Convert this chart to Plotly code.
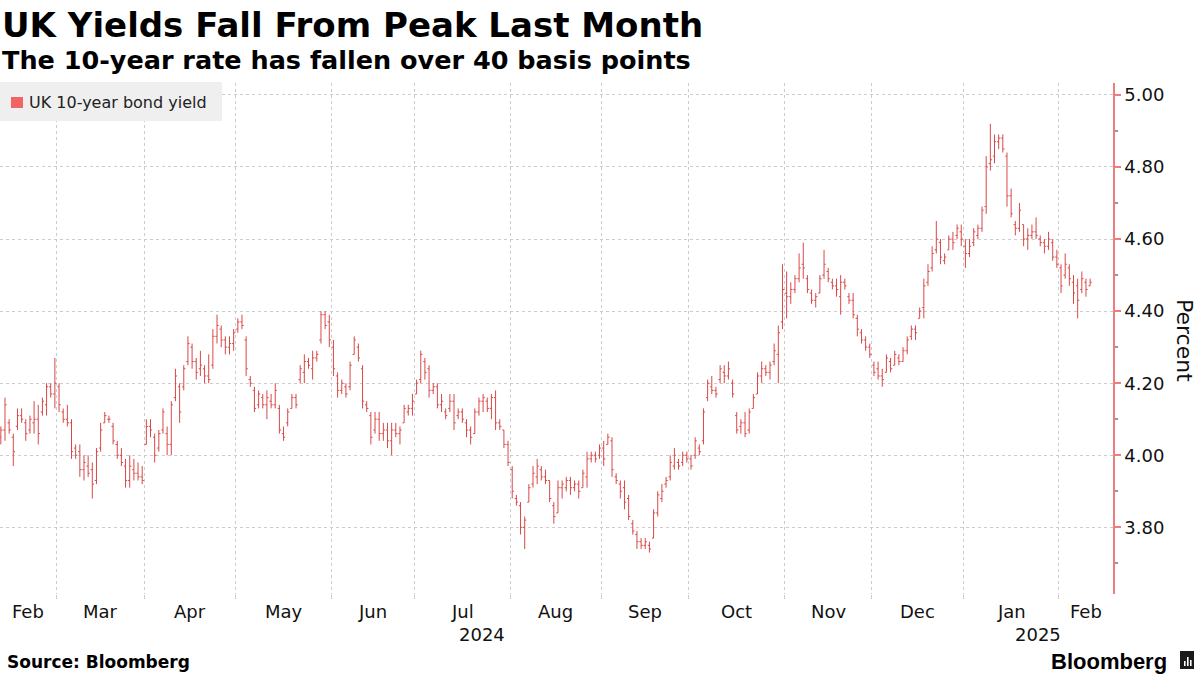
import pandas as pd
import plotly.graph_objects as go

# ---------------- data (UK 10-year gilt yield, daily OHLC, %) ----------------
dates = pd.bdate_range("2024-02-12", periods=263)

high = [
    4.08, 4.16, 4.10, 4.06, 4.13, 4.13, 4.10, 4.11, 4.15, 4.14, 4.16, 4.20, 4.20, 4.27,
    4.20, 4.13, 4.14, 4.10, 4.03, 4.03, 4.00, 4.00, 3.98, 4.02, 4.09, 4.12, 4.11, 4.09, 4.04, 4.02, 3.99, 4.00, 3.99, 3.98, 3.97,
    4.10, 4.10, 4.06, 4.07, 4.13, 4.08, 4.15, 4.24, 4.20, 4.25, 4.33, 4.31, 4.27, 4.29, 4.25, 4.28, 4.35, 4.39, 4.36, 4.33, 4.33, 4.35,
    4.38, 4.39, 4.33, 4.22, 4.19, 4.18, 4.17, 4.18, 4.17, 4.20, 4.14, 4.08, 4.13, 4.17, 4.17, 4.25, 4.28, 4.27, 4.29, 4.29, 4.40, 4.40, 4.39,
    4.32, 4.23, 4.21, 4.20, 4.26, 4.33, 4.31, 4.25, 4.15, 4.12, 4.12, 4.12, 4.09, 4.09, 4.09, 4.09, 4.08, 4.14, 4.14, 4.17,
    4.21, 4.29, 4.27, 4.25, 4.20, 4.20, 4.17, 4.13, 4.17, 4.17, 4.13, 4.13, 4.10, 4.08, 4.13, 4.16, 4.17, 4.16, 4.17, 4.18, 4.10, 4.07, 4.04,
    3.97, 3.89, 3.87, 3.83, 3.92, 3.97, 3.99, 3.97, 3.96, 3.93, 3.87, 3.93, 3.93, 3.94, 3.94, 3.93, 3.93, 3.96, 4.01, 4.01, 4.01, 4.03,
    4.04, 4.06, 4.05, 3.95, 3.93, 3.93, 3.89, 3.82, 3.79, 3.77, 3.77, 3.76, 3.85, 3.90, 3.92, 3.94, 4.00, 4.02, 3.99, 4.01, 4.01,
    4.00, 4.05, 4.03, 4.13, 4.21, 4.22, 4.19, 4.25, 4.25, 4.26, 4.21, 4.12, 4.10, 4.12, 4.13, 4.17, 4.23, 4.26, 4.25, 4.26, 4.31, 4.36, 4.53,
    4.51, 4.48, 4.50, 4.56, 4.59, 4.50, 4.46, 4.45, 4.50, 4.57, 4.52, 4.49, 4.49, 4.50, 4.49, 4.45, 4.45, 4.39, 4.35, 4.33, 4.31,
    4.26, 4.26, 4.24, 4.28, 4.27, 4.29, 4.28, 4.30, 4.33, 4.36, 4.36, 4.41, 4.49, 4.53, 4.58, 4.65, 4.60, 4.56, 4.61, 4.62, 4.64, 4.64,
    4.60, 4.60, 4.63, 4.64, 4.69, 4.83, 4.92, 4.89, 4.89, 4.89, 4.84, 4.74, 4.65, 4.70, 4.64, 4.63, 4.64, 4.66, 4.61, 4.60, 4.62, 4.60, 4.57,
    4.53, 4.56, 4.53, 4.50, 4.49, 4.51, 4.49, 4.49,
]

low = [
    4.03, 4.04, 4.06, 3.97, 4.07, 4.09, 4.04, 4.06, 4.06, 4.03, 4.11, 4.11, 4.16, 4.13,
    4.12, 4.09, 4.08, 3.99, 3.99, 3.94, 3.93, 3.94, 3.88, 3.92, 4.01, 4.09, 4.09, 4.03, 3.99, 3.97, 3.91, 3.91, 3.93, 3.93, 3.92,
    4.03, 4.05, 3.98, 4.01, 4.06, 4.00, 4.00, 4.15, 4.09, 4.18, 4.25, 4.24, 4.21, 4.22, 4.20, 4.20, 4.24, 4.31, 4.30, 4.28, 4.28, 4.29,
    4.34, 4.35, 4.22, 4.19, 4.12, 4.13, 4.13, 4.10, 4.13, 4.13, 4.06, 4.04, 4.08, 4.13, 4.13, 4.20, 4.20, 4.24, 4.21, 4.26, 4.31, 4.35, 4.30,
    4.22, 4.16, 4.17, 4.16, 4.18, 4.28, 4.26, 4.13, 4.12, 4.03, 4.06, 4.04, 4.04, 4.02, 4.00, 4.05, 4.03, 4.09, 4.11, 4.11,
    4.17, 4.20, 4.21, 4.16, 4.17, 4.13, 4.12, 4.10, 4.12, 4.07, 4.10, 4.09, 4.05, 4.03, 4.06, 4.11, 4.12, 4.12, 4.10, 4.07, 4.07, 4.02, 3.97,
    3.88, 3.86, 3.78, 3.74, 3.87, 3.91, 3.92, 3.93, 3.92, 3.87, 3.81, 3.84, 3.88, 3.90, 3.89, 3.90, 3.88, 3.91, 3.91, 3.98, 3.98, 3.99,
    3.97, 4.03, 3.94, 3.92, 3.88, 3.85, 3.82, 3.78, 3.74, 3.74, 3.74, 3.73, 3.77, 3.83, 3.87, 3.91, 3.93, 3.96, 3.96, 3.97, 3.98,
    3.96, 3.99, 4.00, 4.03, 4.15, 4.17, 4.16, 4.20, 4.20, 4.21, 4.16, 4.06, 4.06, 4.05, 4.06, 4.13, 4.17, 4.20, 4.22, 4.21, 4.25, 4.20, 4.35,
    4.38, 4.42, 4.45, 4.48, 4.49, 4.45, 4.42, 4.41, 4.45, 4.49, 4.48, 4.46, 4.44, 4.39, 4.46, 4.42, 4.38, 4.33, 4.31, 4.29, 4.27,
    4.22, 4.21, 4.19, 4.23, 4.23, 4.25, 4.25, 4.26, 4.28, 4.32, 4.32, 4.38, 4.38, 4.47, 4.51, 4.56, 4.53, 4.53, 4.57, 4.57, 4.60, 4.58,
    4.52, 4.55, 4.58, 4.60, 4.62, 4.67, 4.79, 4.81, 4.85, 4.84, 4.69, 4.66, 4.61, 4.62, 4.58, 4.57, 4.60, 4.60, 4.58, 4.56, 4.57, 4.54, 4.52,
    4.45, 4.49, 4.47, 4.42, 4.38, 4.45, 4.44, 4.47,
]

open_ = [
    4.05, 4.07, 4.09, 4.05, 4.08, 4.11, 4.09, 4.07, 4.09, 4.10, 4.12, 4.14, 4.19, 4.17,
    4.19, 4.12, 4.10, 4.09, 4.02, 4.01, 3.96, 3.97, 3.96, 3.93, 4.02, 4.09, 4.10, 4.08, 4.03, 4.00, 3.97, 3.93, 3.96, 3.95, 3.94,
    4.03, 4.08, 4.05, 4.02, 4.07, 4.06, 4.03, 4.16, 4.19, 4.19, 4.26, 4.30, 4.26, 4.24, 4.24, 4.22, 4.25, 4.33, 4.35, 4.32, 4.30, 4.31,
    4.35, 4.37, 4.32, 4.21, 4.18, 4.14, 4.16, 4.14, 4.15, 4.14, 4.13, 4.06, 4.09, 4.13, 4.16, 4.21, 4.23, 4.26, 4.24, 4.27, 4.32, 4.39, 4.37,
    4.30, 4.22, 4.18, 4.19, 4.19, 4.28, 4.30, 4.24, 4.14, 4.11, 4.07, 4.10, 4.06, 4.07, 4.04, 4.07, 4.06, 4.09, 4.12, 4.13,
    4.17, 4.21, 4.26, 4.24, 4.18, 4.19, 4.14, 4.12, 4.13, 4.15, 4.11, 4.12, 4.09, 4.07, 4.06, 4.12, 4.15, 4.15, 4.13, 4.16, 4.09, 4.07, 4.03,
    3.96, 3.88, 3.86, 3.80, 3.87, 3.92, 3.94, 3.96, 3.94, 3.93, 3.86, 3.84, 3.91, 3.91, 3.93, 3.91, 3.92, 3.91, 3.94, 3.99, 4.00, 4.00,
    4.02, 4.03, 4.04, 3.94, 3.92, 3.91, 3.88, 3.81, 3.78, 3.76, 3.75, 3.75, 3.77, 3.84, 3.88, 3.92, 3.94, 3.97, 3.98, 3.98, 4.00,
    3.99, 4.00, 4.02, 4.04, 4.16, 4.19, 4.18, 4.21, 4.23, 4.22, 4.20, 4.11, 4.08, 4.09, 4.07, 4.13, 4.17, 4.22, 4.24, 4.23, 4.26, 4.28, 4.37,
    4.45, 4.44, 4.46, 4.49, 4.53, 4.49, 4.45, 4.43, 4.45, 4.50, 4.51, 4.48, 4.47, 4.44, 4.48, 4.44, 4.43, 4.38, 4.34, 4.32, 4.30,
    4.25, 4.24, 4.22, 4.23, 4.26, 4.25, 4.27, 4.26, 4.29, 4.33, 4.35, 4.38, 4.41, 4.48, 4.52, 4.57, 4.59, 4.54, 4.57, 4.60, 4.61, 4.62,
    4.58, 4.56, 4.59, 4.61, 4.63, 4.69, 4.81, 4.83, 4.87, 4.88, 4.83, 4.72, 4.64, 4.63, 4.64, 4.60, 4.61, 4.62, 4.60, 4.59, 4.58, 4.59, 4.55,
    4.52, 4.50, 4.52, 4.48, 4.47, 4.46, 4.48, 4.47,
]

close = [
    4.07, 4.14, 4.07, 4.01, 4.11, 4.10, 4.06, 4.10, 4.10, 4.06, 4.15, 4.19, 4.17, 4.20,
    4.14, 4.10, 4.09, 4.01, 4.00, 3.96, 3.98, 3.95, 3.92, 4.01, 4.07, 4.11, 4.10, 4.04, 4.00, 3.98, 3.93, 3.97, 3.95, 3.94, 3.93,
    4.08, 4.07, 4.00, 4.06, 4.12, 4.03, 4.14, 4.22, 4.12, 4.24, 4.31, 4.26, 4.23, 4.25, 4.22, 4.21, 4.33, 4.36, 4.32, 4.30, 4.31, 4.34,
    4.37, 4.36, 4.24, 4.20, 4.13, 4.17, 4.14, 4.16, 4.14, 4.18, 4.07, 4.05, 4.12, 4.16, 4.14, 4.24, 4.26, 4.25, 4.27, 4.28, 4.39, 4.36, 4.32,
    4.24, 4.18, 4.20, 4.17, 4.25, 4.32, 4.27, 4.15, 4.13, 4.05, 4.10, 4.06, 4.07, 4.04, 4.07, 4.06, 4.07, 4.13, 4.13, 4.15,
    4.20, 4.28, 4.23, 4.18, 4.19, 4.14, 4.15, 4.11, 4.15, 4.09, 4.12, 4.10, 4.07, 4.05, 4.12, 4.15, 4.16, 4.13, 4.16, 4.09, 4.08, 4.03, 3.98,
    3.90, 3.87, 3.80, 3.82, 3.91, 3.95, 3.97, 3.94, 3.93, 3.88, 3.83, 3.91, 3.92, 3.93, 3.91, 3.92, 3.90, 3.95, 3.99, 4.00, 3.99, 4.02,
    3.99, 4.05, 3.96, 3.93, 3.90, 3.87, 3.83, 3.79, 3.76, 3.75, 3.76, 3.74, 3.84, 3.89, 3.90, 3.93, 3.98, 4.00, 3.97, 4.00, 3.99,
    3.97, 4.04, 4.01, 4.12, 4.20, 4.18, 4.17, 4.24, 4.22, 4.24, 4.17, 4.07, 4.09, 4.06, 4.12, 4.16, 4.22, 4.24, 4.23, 4.25, 4.29, 4.34, 4.46,
    4.44, 4.46, 4.49, 4.52, 4.52, 4.46, 4.43, 4.44, 4.49, 4.53, 4.49, 4.47, 4.46, 4.48, 4.47, 4.43, 4.39, 4.35, 4.32, 4.30, 4.28,
    4.23, 4.22, 4.21, 4.27, 4.24, 4.28, 4.26, 4.29, 4.32, 4.35, 4.34, 4.40, 4.47, 4.51, 4.56, 4.60, 4.55, 4.55, 4.60, 4.59, 4.63, 4.60,
    4.56, 4.58, 4.62, 4.63, 4.68, 4.80, 4.82, 4.87, 4.88, 4.85, 4.72, 4.67, 4.63, 4.68, 4.60, 4.61, 4.62, 4.61, 4.59, 4.58, 4.60, 4.55, 4.53,
    4.47, 4.53, 4.49, 4.45, 4.43, 4.49, 4.46, 4.48,
]

series_name = "UK 10-year bond yield"
title = "UK Yields Fall From Peak Last Month"
subtitle = "The 10-year rate has fallen over 40 basis points"
y_title = "Percent"
source = "Source: Bloomberg"

# ---------------- layout helpers ----------------
W, H = 1199, 674
PL, PR, PT, PB = 0, 1113, 83, 594          # plot area in pixels


def pxx(x):
    return (x - PL) / (PR - PL)


def pxy(y):
    return (PB - y) / (PB - PT)


RED = "#d94848"
AXIS_RED = "#ee7d7d"
GRID = "#cccccc"
FONT = "DejaVu Sans"

idx = list(range(len(dates)))
x_range = [-0.2, 267.5]

months = [d.to_period("M") for d in dates]
bounds = [i - 0.5 for i in range(1, len(dates)) if months[i] != months[i - 1]]
seg_starts = [x_range[0]] + bounds
seg_ends = bounds + [x_range[1]]
first_idx = [0] + [int(b + 0.5) for b in bounds]
month_labels = [dates[i].strftime("%b") for i in first_idx]

years = [d.year for d in dates]
ybounds = [i - 0.5 for i in range(1, len(dates)) if years[i] != years[i - 1]]
y_starts = [x_range[0]] + ybounds
y_ends = ybounds + [x_range[1]]
y_first = [0] + [int(b + 0.5) for b in ybounds]

fig = go.Figure()
fig.add_trace(go.Ohlc(
    x=idx, open=open_, high=high, low=low, close=close,
    increasing=dict(line=dict(color=RED, width=1)),
    decreasing=dict(line=dict(color=RED, width=1)),
    tickwidth=0.4, showlegend=False, hoverinfo="skip", name=series_name,
))

annotations = [
    dict(text=f"<b>{title}</b>", x=pxx(0), y=pxy(3), xref="paper", yref="paper",
         xanchor="left", yanchor="top", showarrow=False,
         font=dict(family=FONT, size=34, color="#000000")),
    dict(text=f"<b>{subtitle}</b>", x=pxx(0), y=pxy(43), xref="paper", yref="paper",
         xanchor="left", yanchor="top", showarrow=False,
         font=dict(family=FONT, size=25.5, color="#000000")),
    dict(text=series_name, x=pxx(27), y=pxy(102), xref="paper", yref="paper",
         xanchor="left", yanchor="middle", showarrow=False,
         font=dict(family=FONT, size=16, color="#222222")),
    dict(text=y_title, x=pxx(1185), y=pxy(340), xref="paper", yref="paper",
         xanchor="center", yanchor="middle", showarrow=False, textangle=90,
         font=dict(family=FONT, size=22, color="#111111")),
    dict(text=f"<b>{source}</b>", x=pxx(5), y=pxy(662), xref="paper", yref="paper",
         xanchor="left", yanchor="middle", showarrow=False,
         font=dict(family=FONT, size=17, color="#000000")),
    dict(text="<b>Bloomberg</b>", x=pxx(1169), y=pxy(661), xref="paper", yref="paper",
         xanchor="right", yanchor="middle", showarrow=False,
         font=dict(family="Liberation Sans", size=22, color="#000000")),
]
for s, e, lab in zip(seg_starts, seg_ends, month_labels):
    annotations.append(dict(text=lab, x=(s + e) / 2, xref="x", y=pxy(612), yref="paper",
                            xanchor="center", yanchor="middle", showarrow=False,
                            font=dict(family=FONT, size=18, color="#111111")))
for s, e, i in zip(y_starts, y_ends, y_first):
    annotations.append(dict(text=str(dates[i].year), x=(s + e) / 2, xref="x", y=pxy(634),
                            yref="paper", xanchor="center", yanchor="middle",
                            showarrow=False, font=dict(family=FONT, size=18, color="#111111")))

shapes = [
    dict(type="rect", xref="paper", yref="paper", x0=pxx(0), x1=pxx(222),
         y0=pxy(121), y1=pxy(82), fillcolor="#efefef", line=dict(width=0), layer="above"),
    dict(type="rect", xref="paper", yref="paper", x0=pxx(11), x1=pxx(23),
         y0=pxy(108), y1=pxy(97), fillcolor="#f26464", line=dict(width=0), layer="above"),
    # Bloomberg logo icon
    dict(type="rect", xref="paper", yref="paper", x0=pxx(1180), x1=pxx(1194),
         y0=pxy(669), y1=pxy(651), fillcolor="#1a1a1a", line=dict(width=0)),
]
for bx, top in [(1184, 661), (1187, 657), (1190, 660)]:
    shapes.append(dict(type="rect", xref="paper", yref="paper", x0=pxx(bx), x1=pxx(bx + 1.6),
                       y0=pxy(666), y1=pxy(top), fillcolor="white", line=dict(width=0)))

fig.update_layout(
    width=W, height=H,
    margin=dict(l=PL, r=W - PR, t=PT, b=H - PB, pad=0),
    paper_bgcolor="white", plot_bgcolor="white",
    showlegend=False,
    annotations=annotations, shapes=shapes,
    xaxis=dict(
        range=x_range, rangeslider=dict(visible=False),
        tickvals=bounds, ticktext=[""] * len(bounds),
        showgrid=True, gridcolor=GRID, griddash="dot", gridwidth=1,
        ticks="outside", ticklen=4, tickcolor=GRID,
        zeroline=False, showline=False, fixedrange=True,
    ),
    yaxis=dict(
        side="right", range=[3.615, 5.033],
        tick0=3.8, dtick=0.2, tickformat=".2f",
        showgrid=True, gridcolor=GRID, griddash="dot", gridwidth=1,
        showline=True, linecolor=AXIS_RED, linewidth=1.5,
        ticks="outside", ticklen=6, tickwidth=2, tickcolor=AXIS_RED,
        minor=dict(ticks="outside", ticklen=3, tickcolor="#999999", dtick=0.1,
                   tick0=3.8, showgrid=False),
        tickfont=dict(family=FONT, size=18, color="#111111"),
        zeroline=False, fixedrange=True,
    ),
)

fig.write_html("out.html", config={"displayModeBar": False},
               post_script="document.body.style.margin='0';")
